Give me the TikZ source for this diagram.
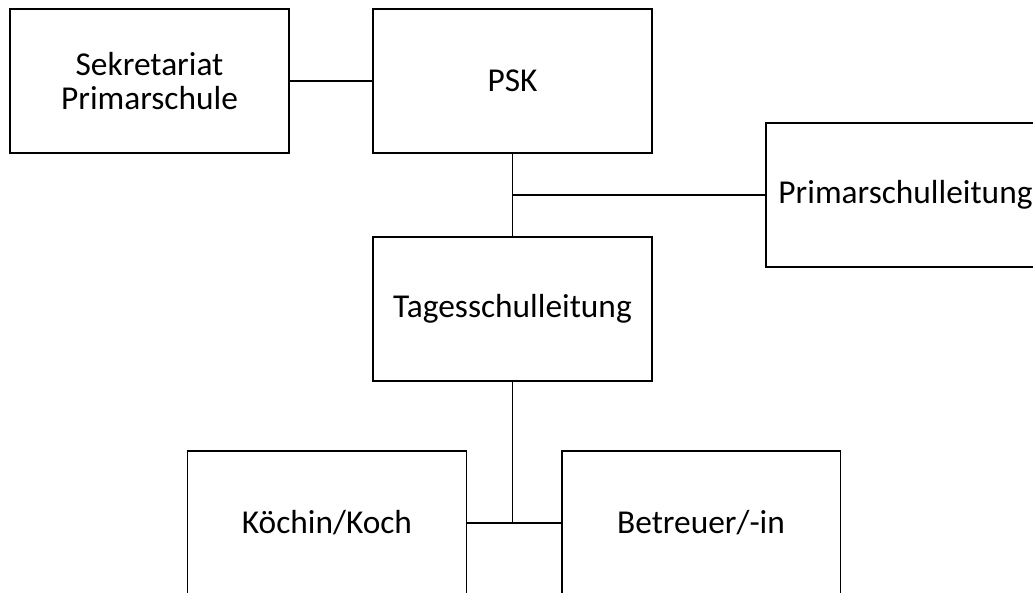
\documentclass[tikz,border=0pt]{standalone}
\usepackage{fontspec}
\setmainfont{Carlito}
\begin{document}
\begin{tikzpicture}[x=0.02cm,y=-0.02cm,
    box/.style={draw,line width=1.1pt,minimum width=5.58cm,minimum height=2.88cm,
      inner sep=0pt,align=center,font=\fontsize{19}{19.4}\selectfont},
    link/.style={line width=1.1pt}]
  \useasboundingbox (0,0) rectangle (1033,592);
  \clip (0,0) rectangle (1033,592);
  % boxes
  \node[box] (sek) at (149.5,81) {Sekretariat\\Primarschule};
  \node[box] (psk) at (512.5,81) {PSK};
  \node[box] (prim) at (905.5,195) {Primarschulleitung};
  \node[box] (tsl) at (512.5,309) {Tagesschulleitung};
  \node[box] (koch) at (327,523) {Köchin/Koch};
  \node[box] (betr) at (701,523) {Betreuer/-in};
  % lines
  \coordinate (jtop) at (psk.south |- prim.west);
  \coordinate (jbot) at (tsl.south |- koch.east);
  \draw[link] (sek) -- (psk);
  \draw[link] (psk) -- (tsl);
  \draw[link] (jtop) -- (prim.west);
  \draw[link] (tsl.south) -- (jbot);
  \draw[link] (koch.east) -- (betr.west);
\end{tikzpicture}
\end{document}
